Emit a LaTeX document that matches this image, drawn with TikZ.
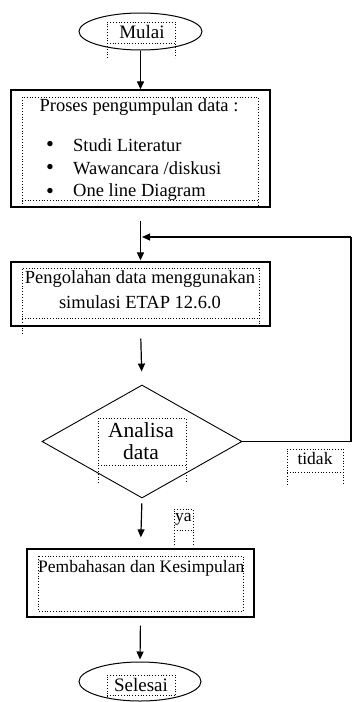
\documentclass[tikz,border=0pt]{standalone}
\usepackage{fontspec}
\setmainfont{Liberation Serif}
\usetikzlibrary{shapes.geometric,arrows.meta}
\tikzset{
  box/.style={draw, line width=1.3pt, inner sep=0pt},
  term/.style={ellipse, draw, line width=1pt, inner sep=0pt},
  dec/.style={diamond, draw, line width=0.9pt, inner sep=0pt, aspect=1.77},
  txt/.style={inner sep=0pt, font=\fontsize{18.5}{20}\selectfont},
  bul/.style={inner sep=0pt, font=\fontsize{22.5}{22}\selectfont},
  tbox/.style={draw, dotted, line width=0.8pt},
  arr/.style={line width=1.2pt, -{Triangle[length=8pt,width=7pt]}},
  ln/.style={line width=1.2pt},
}
\begin{document}
\begin{tikzpicture}[x=1pt,y=-1pt]
\useasboundingbox (0,0) rectangle (353,702);
% terminals and boxes
\node[term, minimum width=123pt, minimum height=37pt] (mulai) at (140.5,31.5) {};
\node[box, minimum width=259pt, minimum height=117pt] (p1) at (140.5,148.5) {};
\node[box, minimum width=259pt, minimum height=64pt] (p2) at (140.5,294) {};
\node[dec, minimum width=200pt, minimum height=113pt] (d) at (142,441.5) {};
\node[box, minimum width=227pt, minimum height=68pt] (p3) at (140.5,583) {};
\node[term, minimum width=122pt, minimum height=39pt] (selesai) at (140,681.5) {};
% dotted text frames
\draw[tbox] (107,58) -- (107,22) -- (175,22) -- (175,58) (107,43) -- (175,43);
\draw[tbox] (22,207) -- (22,97) -- (258,97) -- (258,207) (22,200) -- (258,200);
\draw[tbox] (22,334) -- (22,268) -- (259,268) -- (259,326) (22,318) -- (259,318);
\draw[tbox] (98,483) -- (98,418) -- (186,418) -- (186,483) (98,465) -- (186,465);
\draw[tbox] (287,485) -- (287,449) -- (343,449) -- (343,485) (287,472) -- (343,472);
\draw[tbox] (174,545) -- (174,509) -- (193,509) -- (193,545) (174,530) -- (193,530);
\draw[tbox] (38,556) rectangle (243,611);
\draw[tbox] (107,697) -- (107,675) -- (175,675) -- (175,697) (107,695) -- (175,695);
% texts
\node[txt, font=\fontsize{19}{21}\selectfont] (tmulai) at (142,32) {Mulai};
\node[txt] (t1) at (139,107) {Proses pengumpulan data :};
\node[bul] (b1) at (50,146) {\textbullet};
\node[txt, anchor=west] (l1) at (73,145) {Studi Literatur};
\node[bul] (b2) at (50,169) {\textbullet};
\node[txt, anchor=west] (l2) at (73,168) {Wawancara /diskusi};
\node[bul] (b3) at (50,193) {\textbullet};
\node[txt, anchor=west] (l3) at (73,192) {One line Diagram};
\node[txt] (t2a) at (140,279) {Pengolahan data menggunakan};
\node[txt] (t2b) at (140,302) {simulasi ETAP 12.6.0};
\node[txt, font=\fontsize{21.5}{23}\selectfont] (ta) at (141,430) {Analisa};
\node[txt, font=\fontsize{21.5}{23}\selectfont] (tb) at (141,452) {data};
\node[txt, font=\fontsize{17.5}{19}\selectfont] (tidak) at (315,459) {tidak};
\node[txt, font=\fontsize{17.5}{19}\selectfont] (ya) at (183.5,519) {ya};
\node[txt, anchor=west, font=\fontsize{17.5}{19}\selectfont] (t3) at (38,568) {Pembahasan dan Kesimpulan};
\node[txt, font=\fontsize{19}{21}\selectfont] (tsel) at (141,685) {Selesai};
% connectors
\coordinate (c1) at (351,441.5);
\coordinate (c2) at (351,237);
\coordinate (j) at (142,237);
\draw[arr] (mulai.south) -- (p1.north);
\draw[arr, shorten <=13pt, shorten >=1pt] (p1.south) -- (p2.north);
\draw[arr, shorten <=12pt, shorten >=13pt] (p2.south) -- (d.north);
\draw[arr, shorten <=5pt, shorten >=11pt] (d.south) -- (p3.north);
\draw[arr, shorten <=8pt, shorten >=2pt] (p3.south) -- (selesai.north);
\draw[ln] (d.east) -- (c1) -- (c2);
\draw[arr] (c2) -- (j);
\end{tikzpicture}
\end{document}
